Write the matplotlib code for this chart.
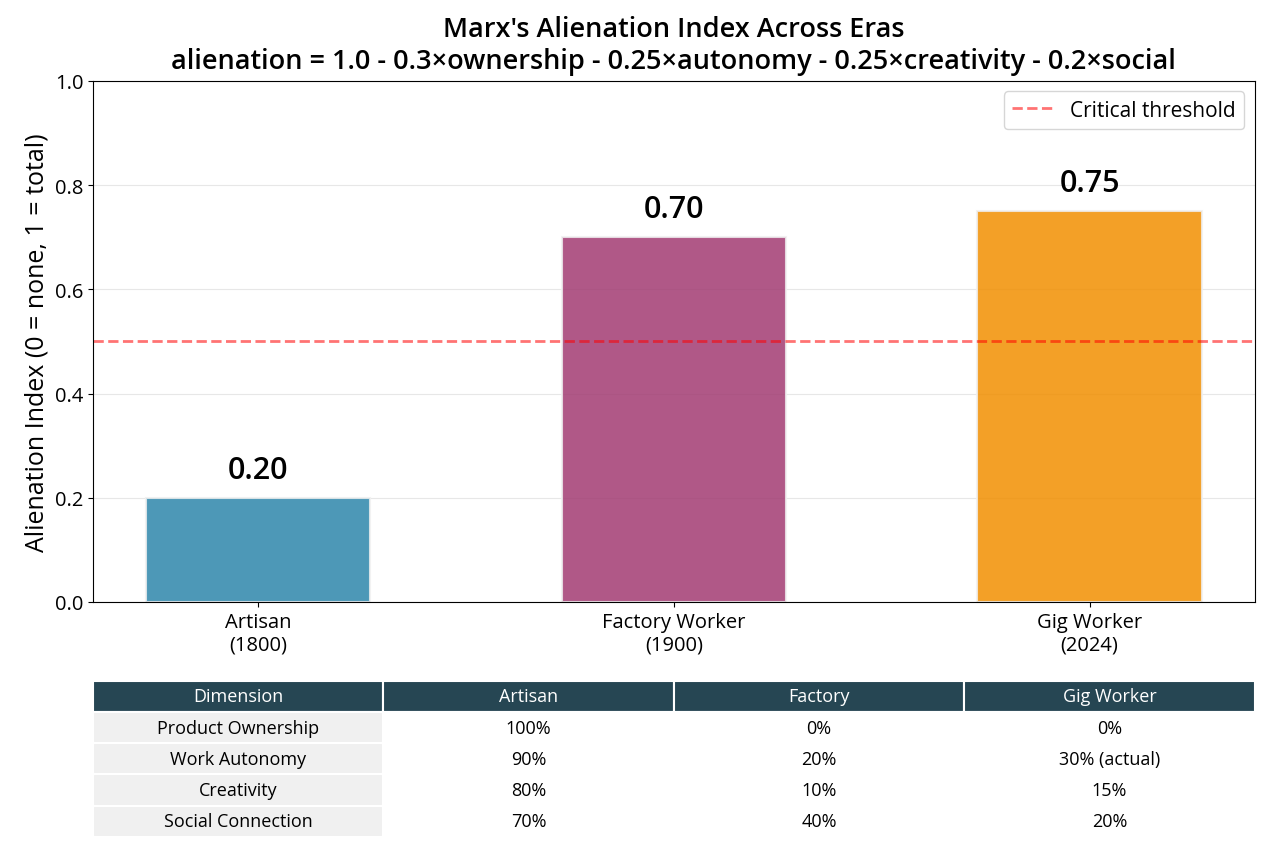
import matplotlib
matplotlib.use("Agg")
import matplotlib.pyplot as plt

plt.rcParams['font.family'] = ['Open Sans', 'DejaVu Sans']

eras = ['Artisan\n(1800)', 'Factory Worker\n(1900)', 'Gig Worker\n(2024)']
alienation = [0.20, 0.70, 0.75]
colors = ['#2E86AB', '#A23B72', '#F18F01']
threshold = 0.5

col_labels = ['Dimension', 'Artisan', 'Factory', 'Gig Worker']
dimensions = ['Product Ownership', 'Work Autonomy', 'Creativity', 'Social Connection']
artisan = ['100%', '90%', '80%', '70%']
factory = ['0%', '20%', '10%', '40%']
gig = ['0%', '30% (actual)', '15%', '20%']

fig = plt.figure(figsize=(12.7, 8.54), dpi=100)
ax = fig.add_axes([0.0732, 0.294, 0.9148, 0.610])

x = range(len(eras))
bars = ax.bar(x, alienation, width=0.54, color=colors, alpha=0.85,
              edgecolor='#f0f0f0', linewidth=1.5)
for b, v in zip(bars, alienation):
    ax.text(b.get_x() + b.get_width() / 2, v + 0.025, f'{v:.2f}',
            ha='center', va='bottom', fontsize=22, fontweight='semibold')

ax.axhline(threshold, color='red', linestyle='--', linewidth=2, alpha=0.55,
           label='Critical threshold')
ax.set_ylim(0, 1.0)
ax.set_xticks(list(x))
ax.set_xticklabels(eras, fontsize=14.5)
ax.tick_params(axis='y', labelsize=14.5)
ax.set_ylabel('Alienation Index (0 = none, 1 = total)', fontsize=18)
ax.set_title("Marx's Alienation Index Across Eras\n"
             "alienation = 1.0 - 0.3×ownership - 0.25×autonomy - 0.25×creativity - 0.2×social",
             fontsize=19.5, fontweight='semibold', pad=9)
ax.yaxis.grid(True, alpha=0.3)
ax.set_axisbelow(True)
ax.legend(loc='upper right', fontsize=15)

rows = [[d, a, f, g] for d, a, f, g in zip(dimensions, artisan, factory, gig)]
tbl = ax.table(cellText=rows, colLabels=col_labels, cellLoc='center',
               bbox=[0, -0.451, 1, 0.2995])
tbl.auto_set_font_size(False)
tbl.set_fontsize(13)
for (r, c), cell in tbl.get_celld().items():
    cell.set_edgecolor('white')
    cell.set_linewidth(1.5)
    if r == 0:
        cell.set_facecolor('#264653')
        cell.get_text().set_color('white')
    elif c == 0:
        cell.set_facecolor('#F0F0F0')
    else:
        cell.set_facecolor('white')

fig.savefig('out.png', dpi=100)
